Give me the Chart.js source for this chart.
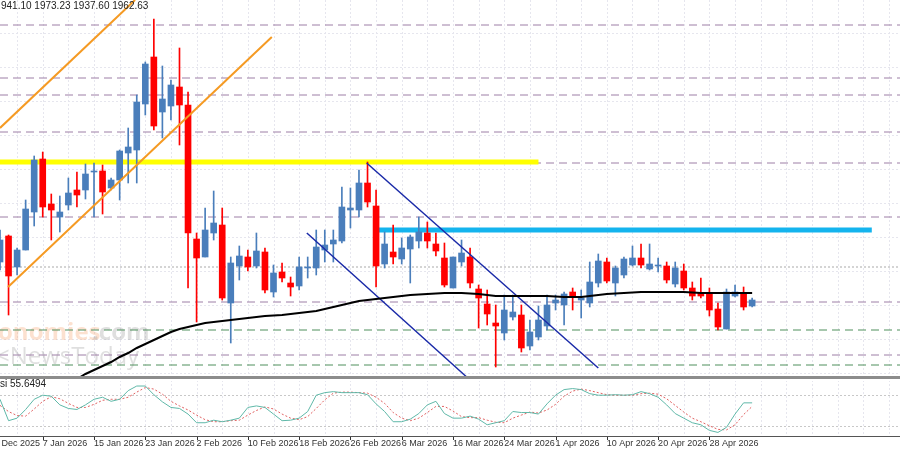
<!DOCTYPE html>
<html><head><meta charset="utf-8">
<script src="https://cdn.jsdelivr.net/npm/chart.js@4"></script>
<style>html,body{margin:0;padding:0;background:#fff}#w{width:900px;height:450px}</style>
</head><body><div id="w"><canvas id="c"></canvas></div>
<script>
const opens  = [1738,1764,1733,1750,1788,1841,1796,1783,1795,1810,1810,1828,1829,1812,1820,1847,1850,1896,1943,1888,1894,1913,1895,1761,1743,1767,1775,1697,1734,1743,1734,1748,1708,1728,1717,1714,1732,1732,1750,1756,1759,1790,1790,1817,1794,1736,1748,1741,1751,1759,1767,1756,1742,1712,1738,1743,1711,1696,1677,1667,1683,1685,1654,1663,1674,1697,1695,1708,1700,1697,1717,1738,1717,1725,1735,1742,1731,1734,1734,1716,1729,1712,1707,1707,1691,1671,1704,1707,1694];
const highs  = [1770,1765,1752,1800,1844,1848,1806,1804,1822,1828,1836,1837,1835,1822,1850,1872,1905,1938,1981,1934,1920,1952,1908,1767,1792,1809,1792,1743,1754,1750,1767,1752,1735,1737,1723,1743,1743,1770,1770,1770,1813,1812,1830,1838,1810,1768,1775,1762,1765,1783,1778,1767,1757,1743,1760,1752,1715,1710,1695,1705,1705,1695,1680,1694,1705,1705,1708,1712,1710,1738,1746,1742,1734,1743,1754,1756,1756,1742,1738,1738,1736,1718,1722,1712,1697,1711,1715,1713,1702];
const lows   = [1730,1685,1725,1750,1774,1783,1760,1768,1790,1793,1801,1783,1786,1810,1800,1817,1817,1885,1870,1862,1880,1855,1712,1678,1743,1760,1700,1657,1720,1729,1732,1707,1703,1718,1704,1710,1722,1725,1738,1738,1757,1772,1783,1793,1713,1732,1736,1736,1717,1752,1752,1744,1713,1712,1734,1712,1672,1675,1633,1660,1680,1648,1650,1660,1670,1690,1675,1690,1682,1693,1713,1717,1704,1722,1734,1732,1730,1728,1717,1713,1710,1700,1702,1684,1670,1671,1703,1690,1693];
const closes = [1760,1724,1750,1791,1840,1793,1790,1788,1807,1805,1826,1829,1808,1820,1849,1853,1898,1936,1874,1901,1915,1895,1767,1742,1770,1777,1702,1737,1744,1733,1749,1710,1727,1722,1713,1733,1733,1753,1755,1760,1793,1792,1817,1798,1734,1756,1743,1752,1763,1768,1759,1749,1715,1743,1747,1717,1702,1686,1674,1690,1688,1652,1668,1680,1695,1700,1706,1704,1702,1718,1739,1719,1732,1741,1742,1735,1736,1735,1720,1732,1712,1704,1704,1690,1673,1708,1708,1693,1700];
const maValues = [null,null,null,null,null,null,null,null,null,1621,1626,1630,1634,1638,1643,1647,1652,1656,1660,1664,1668,1671,1673,1675,1677,1678,1679,1680,1681,1682,1683,1684,1684.5,1685,1686,1687,1688,1689,1691,1693,1695,1697,1699,1700,1701,1702,1703,1704,1705,1705.5,1706,1706.5,1707,1707,1707,1706.5,1706,1705,1704,1704,1704,1704,1704,1704,1704,1703.5,1703,1703,1703,1704,1705,1706,1706.5,1707,1707.5,1708,1708,1708,1708,1708,1708,1707.5,1707,1707,1707,1707,1707,1707,1707];
const stochMain = [72,30,35,52,72,80,78,61,54,52,61,72,76,68,72,89,98,98,81,67,56,54,43,26,26,31,28,31,35,56,59,56,43,30,31,35,48,80,85,87,85,85,85,81,63,48,28,28,33,44,61,68,44,35,35,39,33,22,26,30,48,46,46,43,63,80,91,93,91,83,80,80,81,80,81,87,83,76,61,44,35,26,22,11,7,17,43,65,65];
const stochSignal = [60,48,40,39,53,68,77,73,64,56,56,62,70,72,72,76,86,95,92,82,68,59,51,41,32,28,28,30,31,41,50,57,53,43,35,32,38,54,71,84,86,86,85,84,76,64,46,35,30,35,46,58,58,49,38,36,36,31,27,26,35,41,47,45,51,62,78,88,92,89,85,81,80,80,80,83,84,82,73,60,47,35,28,20,13,12,22,42,58];
const tickIdx = [-1.3,5,11,17,23,29,35,41,47,53,59,65,71,77,83];
const tickLabels = ["30 Dec 2025","7 Jan 2026","15 Jan 2026","23 Jan 2026","2 Feb 2026","10 Feb 2026","18 Feb 2026","26 Feb 2026","6 Mar 2026","16 Mar 2026","24 Mar 2026","1 Apr 2026","10 Apr 2026","20 Apr 2026","28 Apr 2026"];
const purpleLevels = [1975,1922,1905,1868,1837,1783,1698,1645];
const greenLevels = [1670,1635];
const dottedLevels = [1733];
const yellowLevel = {from:0, to:63, y:1838};
const cyanLevel = {from:44.2, to:102, y:1770};
const orangeLines = [[{x:0,y:1872},{x:15.8,y:2000}],[{x:0.94,y:1713},{x:31.8,y:1963}]];
const navyLines = [[{x:42.9,y:1837},{x:70,y:1632}],[{x:35.9,y:1767},{x:54.6,y:1623}]];

const BLUE='#4a7ebb', RED='#ff0000';
const up = closes.map((c,i)=>c>=opens[i]);
const col = up.map(u=>u?BLUE:RED);
const idx = closes.map((_,i)=>i);
const XMAX = 105.3;

const datasets = [];
purpleLevels.forEach(v=>datasets.push({type:'line',data:[{x:0,y:v},{x:XMAX,y:v}],borderColor:'#9d7fa6',borderWidth:1,borderDash:[8,5],pointRadius:0,order:9,yAxisID:'y'}));
greenLevels.forEach(v=>datasets.push({type:'line',data:[{x:0,y:v},{x:XMAX,y:v}],borderColor:'#4f8f5c',borderWidth:1,borderDash:[8,5],pointRadius:0,order:9,yAxisID:'y'}));
dottedLevels.forEach(v=>datasets.push({type:'line',data:[{x:0,y:v},{x:XMAX,y:v}],borderColor:'#aaaaaa',borderWidth:1,borderDash:[2,2],pointRadius:0,order:9,yAxisID:'y'}));
datasets.push({type:'line',data:[{x:yellowLevel.from,y:yellowLevel.y},{x:yellowLevel.to,y:yellowLevel.y}],borderColor:'#ffff00',borderWidth:5,pointRadius:0,order:8,yAxisID:'y'});
datasets.push({type:'line',data:[{x:cyanLevel.from,y:cyanLevel.y},{x:cyanLevel.to,y:cyanLevel.y}],borderColor:'#14b4ee',borderWidth:5,pointRadius:0,order:8,yAxisID:'y'});
orangeLines.forEach(l=>datasets.push({type:'line',data:l,borderColor:'#f59a23',borderWidth:2,pointRadius:0,order:3,yAxisID:'y'}));
navyLines.forEach(l=>datasets.push({type:'line',data:l,borderColor:'#1a2aa8',borderWidth:1.5,pointRadius:0,order:3,yAxisID:'y'}));
datasets.push({type:'bar',data:idx.map(i=>({x:i,y:[lows[i],highs[i]]})),backgroundColor:col,barThickness:1,grouped:false,order:5,yAxisID:'y'});
datasets.push({type:'bar',data:idx.map(i=>({x:i,y:[Math.min(opens[i],closes[i]),Math.max(opens[i],closes[i])+ (opens[i]===closes[i]?1:0)]})),backgroundColor:col,barThickness:6,grouped:false,order:4,yAxisID:'y'});
datasets.push({type:'line',data:idx.map(i=>({x:i,y:maValues[i]})),borderColor:'#000',borderWidth:2,pointRadius:0,order:2,yAxisID:'y',spanGaps:false});
datasets.push({type:'line',data:idx.map(i=>({x:i,y:stochMain[i]})),borderColor:'#5fb8a8',borderWidth:1,pointRadius:0,order:2,yAxisID:'y2',tension:0});
datasets.push({type:'line',data:idx.map(i=>({x:i,y:stochSignal[i]})),borderColor:'#e06060',borderWidth:1,borderDash:[2,2],pointRadius:0,order:2,yAxisID:'y2',tension:0});

const deco = {
  id:'deco',
  beforeDatasetsDraw(ch){
    const c=ch.ctx, x=ch.scales.x, y2=ch.scales.y2;
    c.save();
    c.strokeStyle='#e6e6ee'; c.setLineDash([2,2]); c.lineWidth=1;
    for(let i=-1;i<XMAX;i+=3){const px=Math.round(x.getPixelForValue(i))+0.5;c.beginPath();c.moveTo(px,0);c.lineTo(px,436);c.stroke();}
    for(let py=33;py<375;py+=34){c.beginPath();c.moveTo(0,py+0.5);c.lineTo(900,py+0.5);c.stroke();}
    c.strokeStyle='#c8c8c8';
    [80,20].forEach(v=>{const py=Math.round(y2.getPixelForValue(v))+0.5;c.beginPath();c.moveTo(0,py);c.lineTo(900,py);c.stroke();});
    c.setLineDash([]);
    c.font='bold 24px "Open Sans"'; c.fillStyle='rgba(245,170,120,0.35)';
    c.fillText('onomies',-2,340);
    c.fillStyle='rgba(150,150,150,0.3)'; c.fillText('.com',92,340);
    c.font='24px "Open Sans"'; c.fillText('<NewsToday',-4,364);
    c.restore();
  },
  afterDatasetsDraw(ch){
    const c=ch.ctx, x=ch.scales.x;
    c.save();
    c.fillStyle='#8c8c8c'; c.fillRect(0,376,900,3);
    c.fillStyle='#fff'; c.fillRect(0,379,900,2);
    c.fillStyle='#555'; c.fillRect(0,436,900,1);
    c.font='9px "Liberation Sans"'; c.fillStyle='#333'; c.textBaseline='middle';
    tickIdx.forEach((t,i)=>{const px=x.getPixelForValue(t);c.fillText(tickLabels[i],px,444); c.fillRect(Math.round(px),437,1,3);});
    c.font='10px "Liberation Sans"'; c.fillStyle='#222';
    c.fillText('941.10 1973.23 1937.60 1962.63',1,6);
    c.fillText('si 55.6494',0,384);
    c.restore();
  }
};

new Chart(document.getElementById('c'),{
  data:{datasets},
  options:{responsive:true,maintainAspectRatio:false,animation:false,
    layout:{padding:0},
    plugins:{legend:{display:false},tooltip:{enabled:false}},
    scales:{
      x:{type:'linear',min:0,max:XMAX,display:false,offset:false},
      y:{min:1550,max:2000,display:false},
      y2:{min:-27.45,max:854.9,display:false}
    }},
  plugins:[deco]
});
</script></body></html>
